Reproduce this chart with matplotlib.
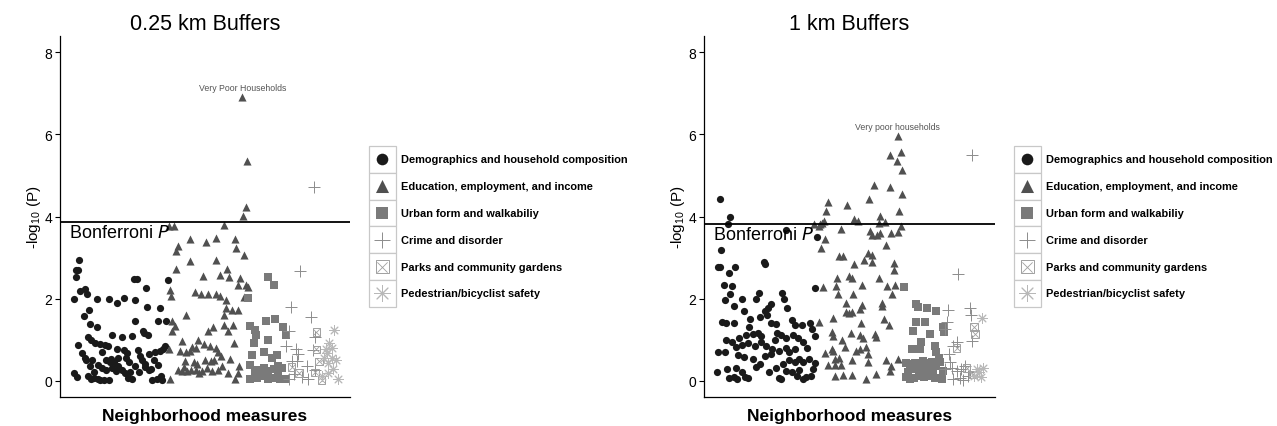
import matplotlib
matplotlib.use("Agg")
import matplotlib.pyplot as plt
from matplotlib.patches import Rectangle

plt.rcParams['font.family'] = ['Liberation Sans', 'DejaVu Sans']

# ---- data: (measure index, -log10 P) ----
# 0.25 km buffers
demo_025 = [(7.2, 2.93), (6.2, 2.69), (6.8, 2.69), (6.4, 2.53), (7.6, 2.18), (9.0, 2.24), (9.6, 2.12),
            (5.8, 1.99), (12.6, 1.99), (16.2, 1.99), (18.5, 1.89), (20.8, 2.02), (23.6, 2.48), (24.6, 2.48),
            (27.2, 2.25), (24.0, 1.96), (27.6, 1.79), (31.4, 1.77), (33.8, 2.44), (10.2, 1.73), (8.6, 1.58),
            (24.0, 1.45), (30.8, 1.45), (33.2, 1.45), (10.4, 1.39), (12.6, 1.30), (26.4, 1.22), (26.8, 1.15),
            (27.8, 1.10), (17.2, 1.10), (20.2, 1.06), (23.2, 1.08), (9.8, 1.06), (10.8, 0.98), (12.0, 0.92),
            (13.4, 0.90), (15.0, 0.87), (15.8, 0.84), (7.0, 0.87), (18.6, 0.76), (20.6, 0.74), (21.6, 0.67),
            (24.8, 0.74), (14.2, 0.69), (8.0, 0.67), (9.0, 0.55), (9.2, 0.50), (11.2, 0.51), (12.8, 0.39),
            (15.4, 0.51), (16.6, 0.46), (17.6, 0.45), (21.2, 0.55), (22.2, 0.45), (26.0, 0.51), (27.0, 0.41),
            (28.2, 0.66), (30.0, 0.69), (31.4, 0.72), (32.4, 0.77), (33.0, 0.85), (29.6, 0.51), (31.0, 0.37),
            (5.6, 0.19), (6.6, 0.09), (10.8, 0.03), (11.8, 0.07), (12.8, 0.03), (13.6, 0.01), (14.8, 0.01),
            (16.2, 0.01), (11.8, 0.20), (14.0, 0.31), (15.4, 0.27), (18.2, 0.23), (19.0, 0.35), (20.0, 0.27),
            (21.0, 0.19), (21.8, 0.07), (23.2, 0.04), (24.0, 0.35), (25.2, 0.20), (27.0, 0.33), (28.2, 0.25),
            (29.2, 0.02), (30.6, 0.04), (31.8, 0.11), (32.2, 0.01), (16.8, 0.52), (19.0, 0.55), (10.4, 0.35),
            (10.0, 0.10), (17.0, 0.30), (22.6, 0.20), (25.6, 0.60), (28.8, 0.28)]
edu_025 = [(56.2, 6.91), (57.5, 5.35), (57.3, 4.22), (56.5, 4.02), (50.8, 3.80), (34.2, 3.76), (35.6, 3.76),
           (40.6, 3.44), (45.2, 3.37), (48.2, 3.47), (54.0, 3.44), (37.0, 3.27), (36.2, 3.15), (54.2, 3.22),
           (56.6, 3.06), (40.4, 2.92), (48.4, 2.93), (36.2, 2.72), (51.6, 2.71), (44.4, 2.56), (49.6, 2.58),
           (52.2, 2.53), (55.6, 2.49), (54.8, 2.34), (57.2, 2.32), (57.8, 2.28), (34.6, 2.20), (34.8, 2.07),
           (42.0, 2.16), (43.8, 2.12), (46.0, 2.10), (48.4, 2.10), (49.6, 2.06), (51.2, 1.97), (56.6, 2.04),
           (51.4, 1.77), (53.0, 1.73), (54.8, 1.73), (39.2, 1.61), (50.8, 1.61), (35.2, 1.45), (36.0, 1.32),
           (35.0, 1.20), (50.8, 1.36), (53.4, 1.36), (46.0, 1.20), (47.4, 1.30), (51.8, 1.20), (38.0, 0.96),
           (43.0, 1.00), (41.0, 0.82), (42.2, 0.80), (44.6, 0.88), (46.4, 0.84), (48.2, 0.80), (53.8, 0.92),
           (34.2, 0.77), (37.6, 0.71), (39.2, 0.69), (40.4, 0.71), (48.8, 0.69), (49.8, 0.61), (52.4, 0.53),
           (39.0, 0.47), (41.6, 0.45), (45.0, 0.51), (46.8, 0.47), (38.6, 0.33), (37.0, 0.27), (38.0, 0.23),
           (39.6, 0.23), (40.8, 0.25), (42.2, 0.27), (43.2, 0.19), (44.0, 0.23), (45.6, 0.31), (47.0, 0.23),
           (49.0, 0.27), (50.2, 0.36), (52.0, 0.19), (55.2, 0.36), (54.8, 0.19), (54.0, 0.03), (34.6, 0.03),
           (42.6, 0.40), (47.8, 0.50)]
urban_025 = [(64.0, 2.53), (65.6, 2.34), (58.0, 2.01), (63.2, 1.45), (66.0, 1.49), (58.4, 1.34), (60.0, 1.24),
             (60.4, 1.12), (68.4, 1.30), (69.2, 1.10), (64.0, 1.00), (59.6, 0.92), (62.6, 0.69), (59.0, 0.63),
             (65.0, 0.55), (66.6, 0.63), (58.6, 0.39), (61.0, 0.27), (62.6, 0.31), (64.0, 0.23), (65.6, 0.28),
             (66.8, 0.36), (68.2, 0.31), (58.6, 0.04), (60.6, 0.07), (62.0, 0.11), (64.0, 0.04), (66.0, 0.07),
             (67.6, 0.04), (69.0, 0.04), (63.0, 0.15), (67.0, 0.18), (60.0, 0.20)]
crime_025 = [(77.6, 4.72), (73.6, 2.67), (70.8, 1.80), (76.8, 1.54), (70.2, 1.20), (69.4, 0.84), (72.2, 0.77),
             (73.0, 0.66), (77.4, 0.74), (78.0, 1.06), (71.2, 0.47), (72.6, 0.47), (75.6, 0.35), (71.8, 0.15),
             (74.0, 0.09), (76.0, 0.04), (70.2, 0.04), (78.0, 0.27)]
parks_025 = [(78.4, 1.18), (78.4, 0.76), (79.2, 0.47), (71.0, 0.33), (73.2, 0.19), (78.0, 0.20), (80.0, 0.02)]
ped_025 = [(83.8, 1.24), (82.2, 0.92), (81.2, 0.77), (81.6, 0.67), (83.0, 0.55), (84.4, 0.51), (81.8, 0.43),
           (83.4, 0.28), (84.8, 0.03), (80.2, 0.11), (82.0, 0.19), (80.8, 0.55), (83.2, 0.80)]

# 1 km buffers
demo_1 = [(9.2, 4.42), (12.4, 4.00), (11.8, 3.81), (9.6, 3.18), (8.6, 2.76), (9.2, 2.78), (12.0, 2.63),
          (13.8, 2.76), (22.4, 2.88), (22.6, 2.84), (10.6, 2.33), (13.0, 2.31), (12.4, 2.11), (10.8, 1.97),
          (13.6, 1.81), (16.0, 1.99), (16.4, 1.70), (20.0, 2.00), (21.0, 2.13), (27.8, 2.13), (28.4, 1.99),
          (29.2, 1.76), (24.4, 1.86), (23.6, 1.76), (22.8, 1.70), (18.4, 1.50), (21.2, 1.56), (23.4, 1.60),
          (10.0, 1.42), (11.2, 1.40), (13.6, 1.40), (24.4, 1.41), (26.0, 1.38), (30.8, 1.47), (31.8, 1.35),
          (36.2, 1.40), (36.8, 1.26), (33.8, 1.35), (15.0, 1.05), (17.0, 1.11), (19.0, 1.13), (20.6, 1.16),
          (21.6, 1.09), (26.2, 1.17), (27.4, 1.11), (29.0, 1.05), (31.2, 1.11), (32.6, 1.03), (37.6, 1.08),
          (13.0, 0.93), (14.0, 0.81), (15.8, 0.87), (17.8, 0.92), (19.6, 0.84), (21.4, 0.93), (23.0, 0.85),
          (24.8, 0.77), (26.8, 0.71), (29.0, 0.80), (30.0, 0.69), (31.6, 0.77), (34.0, 0.93), (35.4, 0.79),
          (8.8, 0.70), (10.8, 0.69), (14.8, 0.62), (16.4, 0.57), (19.0, 0.53), (21.2, 0.41), (22.6, 0.61),
          (24.4, 0.65), (30.0, 0.49), (31.8, 0.45), (33.0, 0.53), (34.2, 0.45), (36.0, 0.53), (11.4, 0.28),
          (14.0, 0.30), (16.0, 0.20), (8.4, 0.20), (12.0, 0.06), (13.4, 0.08), (14.4, 0.04), (16.8, 0.08),
          (17.8, 0.06), (20.0, 0.32), (24.0, 0.20), (27.0, 0.06), (27.6, 0.04), (29.0, 0.24), (30.8, 0.20),
          (32.4, 0.12), (34.0, 0.04), (35.0, 0.08), (36.4, 0.12), (37.2, 0.28), (37.8, 0.44), (38.4, 3.51),
          (37.8, 2.26), (11.0, 0.98), (18.0, 1.30), (25.6, 1.00), (28.0, 0.40), (33.0, 0.25), (26.0, 0.30),
          (29.0, 3.66)]
edu_1 = [(62.4, 5.96), (60.2, 5.51), (63.4, 5.57), (62.2, 5.35), (63.6, 5.14), (55.2, 4.78), (60.0, 4.72),
         (63.8, 4.56), (53.8, 4.42), (41.6, 4.35), (47.4, 4.29), (41.0, 4.13), (62.8, 4.13), (57.2, 4.01),
         (39.8, 3.85), (39.2, 3.81), (40.4, 3.89), (38.8, 3.77), (37.4, 3.81), (49.2, 3.93), (50.4, 3.89),
         (56.8, 3.85), (58.6, 3.87), (45.6, 3.70), (54.0, 3.65), (54.8, 3.54), (56.2, 3.54), (57.2, 3.59),
         (60.4, 3.59), (62.6, 3.62), (63.4, 3.77), (40.6, 3.44), (39.4, 3.22), (44.8, 3.04), (46.0, 3.04),
         (59.0, 3.30), (53.6, 3.10), (54.8, 3.06), (52.4, 2.94), (49.4, 2.84), (54.8, 2.90), (61.2, 2.86),
         (61.4, 2.70), (47.8, 2.55), (48.8, 2.51), (44.4, 2.50), (44.0, 2.31), (56.8, 2.51), (40.2, 2.29),
         (51.8, 2.33), (59.2, 2.31), (61.6, 2.33), (44.6, 2.11), (49.0, 2.11), (60.8, 2.11), (47.0, 1.90),
         (57.6, 1.90), (57.8, 1.82), (51.6, 1.84), (51.2, 1.74), (47.0, 1.66), (47.8, 1.64), (48.8, 1.68),
         (58.4, 1.50), (59.8, 1.35), (43.2, 1.52), (51.4, 1.40), (38.8, 1.42), (42.8, 1.19), (43.0, 1.09),
         (48.4, 1.17), (51.0, 1.11), (52.0, 1.05), (55.6, 1.13), (56.0, 1.07), (45.8, 1.00), (40.8, 0.67),
         (42.8, 0.77), (43.2, 0.71), (46.6, 0.81), (50.0, 0.73), (51.0, 0.77), (52.8, 0.81), (43.6, 0.52),
         (44.8, 0.56), (48.6, 0.49), (53.4, 0.65), (59.0, 0.49), (60.4, 0.36), (62.4, 0.52), (41.6, 0.38),
         (43.6, 0.38), (45.6, 0.38), (53.6, 0.45), (43.6, 0.11), (46.2, 0.14), (48.6, 0.14), (53.0, 0.04),
         (56.0, 0.16), (60.0, 0.24)]
urban_1 = [(64.4, 2.29), (67.8, 1.86), (68.6, 1.80), (71.2, 1.76), (74.0, 1.70), (68.0, 1.42), (70.6, 1.44),
           (76.0, 1.30), (76.4, 1.18), (67.0, 1.22), (72.2, 1.13), (69.4, 0.95), (66.6, 0.76), (69.0, 0.77),
           (73.6, 0.85), (73.8, 0.70), (64.8, 0.44), (66.2, 0.40), (67.6, 0.44), (69.0, 0.38), (70.0, 0.48),
           (71.2, 0.43), (72.6, 0.46), (74.0, 0.36), (75.2, 0.46), (64.8, 0.08), (66.0, 0.04), (67.4, 0.06),
           (68.8, 0.12), (70.2, 0.08), (72.0, 0.12), (73.6, 0.06), (75.6, 0.04), (76.0, 0.24), (67.6, 0.28),
           (70.0, 0.24), (71.2, 0.30), (73.0, 0.27), (65.5, 0.20), (74.8, 0.55)]
crime_1 = [(84.6, 5.49), (80.4, 2.59), (84.0, 1.78), (84.2, 1.60), (77.4, 1.72), (77.0, 1.43), (76.6, 1.26),
           (84.6, 0.97), (80.0, 0.93), (79.0, 0.85), (77.6, 0.65), (78.0, 0.45), (76.6, 0.28), (78.6, 0.30),
           (80.0, 0.24), (81.2, 0.28), (82.6, 0.35), (84.0, 0.20), (79.0, 0.04), (81.0, 0.06), (82.0, 0.02),
           (83.5, 0.10)]
parks_1 = [(85.2, 1.30), (85.6, 1.13), (80.0, 0.80), (83.0, 0.30), (85.0, 0.15)]
ped_1 = [(87.6, 1.52), (88.0, 0.30), (86.6, 0.20), (87.4, 0.08), (85.2, 0.12), (86.0, 0.28)]

categories = ["Demographics and household composition", "Education, employment, and income",
              "Urban form and walkabiliy", "Crime and disorder", "Parks and community gardens",
              "Pedestrian/bicyclist safety"]
bonferroni = [3.86, 3.82]
titles = ["0.25 km Buffers", "1 km Buffers"]
top_labels = ["Very Poor Households", "Very poor households"]
yticks = [0, 2, 4, 6, 8]

# marker styles per category
styles = [
    dict(marker='o', color='#1a1a1a', s=27),
    dict(marker='^', color='#505050', s=34),
    dict(marker='s', color='#7a7a7a', s=28),
    dict(marker='+', color='#8c8c8c', s=65),
    dict(marker='boxx', color='#a0a0a0', s=30),
    dict(marker=(8, 2, 0), color='#b8b8b8', s=48),
]


def draw_points(ax, pts, st, scale=1.0):
    xs = [p[0] for p in pts]
    ys = [p[1] for p in pts]
    s = st['s'] * scale
    if st['marker'] == 'boxx':
        ax.scatter(xs, ys, marker='s', s=s, facecolors='none', edgecolors=st['color'], linewidths=0.7)
        ax.scatter(xs, ys, marker='x', s=s * 0.7, color=st['color'], linewidths=0.6)
    elif st['marker'] in ('+', (8, 2, 0)):
        ax.scatter(xs, ys, marker=st['marker'], s=s, color=st['color'], linewidths=0.7)
    else:
        ax.scatter(xs, ys, marker=st['marker'], s=s, color=st['color'], linewidths=0)


fig = plt.figure(figsize=(12.77, 4.27), dpi=100)
W, H = 1277, 427

panels = [
    dict(left=60, right=350, xlim=(1.5, 88.5),
         data=[demo_025, edu_025, urban_025, crime_025, parks_025, ped_025], leg_x=369),
    dict(left=704, right=995, xlim=(4.5, 91.5),
         data=[demo_1, edu_1, urban_1, crime_1, parks_1, ped_1], leg_x=1014),
]
top, bottom = 37, 398

overlay = fig.add_axes([0, 0, 1, 1], zorder=10)
overlay.set_xlim(0, W)
overlay.set_ylim(H, 0)
overlay.axis('off')

for i, p in enumerate(panels):
    ax = fig.add_axes([p['left'] / W, (H - bottom) / H, (p['right'] - p['left']) / W, (bottom - top) / H])
    for data, st in zip(p['data'], styles):
        draw_points(ax, data, st)
    ax.axhline(bonferroni[i], color='black', lw=1.3)
    ax.text(p['xlim'][0] + 2.6, bonferroni[i] - 0.04, 'Bonferroni $\\it{P}$', fontsize=13,
            va='top', ha='left', color='black')
    tx, ty = max(p['data'][1], key=lambda t: t[1])
    ax.text(tx, ty + 0.12, top_labels[i], fontsize=6.3, color='#555555', ha='center', va='bottom')
    ax.set_xlim(*p['xlim'])
    ax.set_ylim(-0.4, 8.4)
    ax.set_xticks([])
    ax.set_yticks(yticks)
    ax.tick_params(axis='y', length=3.5, width=0.8, labelsize=10, colors='black', pad=2)
    ax.spines['top'].set_visible(False)
    ax.spines['right'].set_visible(False)
    ax.spines['left'].set_linewidth(0.9)
    ax.spines['bottom'].set_linewidth(0.9)
    ax.set_ylabel('-log$_{\\mathregular{10}}$ (P)', fontsize=11, labelpad=1)
    ax.set_xlabel('Neighborhood measures', fontsize=12.5, fontweight='bold', labelpad=8)
    ax.set_title(titles[i], fontsize=15.5, pad=5)

    # legend drawn with a bordered key per entry
    kx, ky0, ks = p['leg_x'], 147, 26.8
    for j, (name, st) in enumerate(zip(categories, styles)):
        y0 = ky0 + j * ks
        overlay.add_patch(Rectangle((kx, y0), ks, ks, facecolor='white', edgecolor='#c8c8c8', lw=0.9))
        cx, cy = kx + ks / 2, y0 + ks / 2
        draw_points(overlay, [(cx, cy)], st, scale=2.6 if st['marker'] != '+' else 2.2)
        overlay.text(kx + ks + 5, cy, name, fontsize=7.9, fontweight='bold', va='center', ha='left')

fig.savefig('out.png', dpi=100)
